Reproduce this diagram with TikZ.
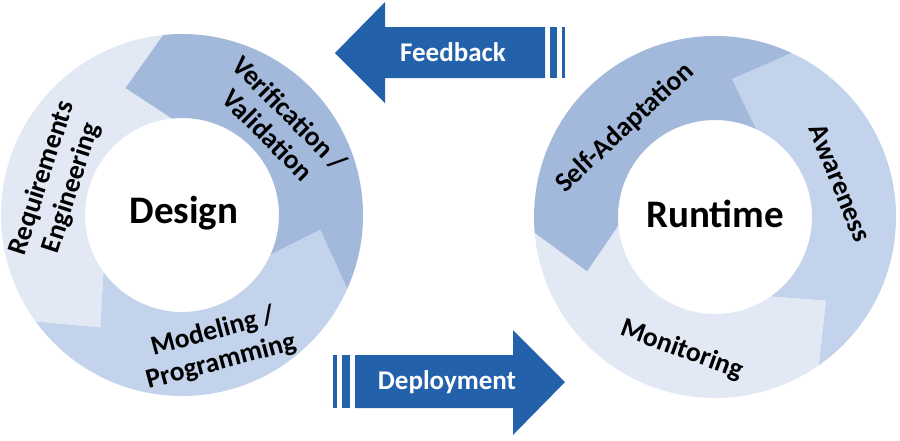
\documentclass[tikz,border=0pt]{standalone}
\usepackage{fontspec}
\setmainfont{Carlito}
\usepackage{xcolor}
\usepackage{tikz}
\usetikzlibrary{calc}
\definecolor{ringdark}{HTML}{A3B9DC}
\definecolor{ringmid}{HTML}{C3D3EC}
\definecolor{ringlight}{HTML}{E2E9F5}
\definecolor{flowblue}{HTML}{2461AB}

% #1 centre, #2 tail angle, #3 head angle, #4 colour
\newcommand{\ringarrow}[4]{%
  \fill[#4] ($(#1)+(#2:181)$) arc[start angle=#2, end angle=#3, radius=181]
    -- ($(#1)+(#3+18:139)$) -- ($(#1)+(#3:97)$)
    arc[start angle=#3, end angle=#2, radius=97]
    -- ($(#1)+(#2+18:139)$) -- cycle;}

\begin{document}
\begin{tikzpicture}[x=1pt,y=1pt,font=\bfseries\fontsize{27.5}{31}\selectfont,
    ringlabel/.style={align=center,inner sep=0pt,text=black},
    hub/.style={inner sep=0pt,font=\bfseries\fontsize{39}{42}\selectfont},
    flowlabel/.style={inner sep=0pt,text=white,font=\bfseries\fontsize{27}{30}\selectfont}]
    \useasboundingbox[fill=white] (0,0) rectangle (900,-440);
    \coordinate (dc) at (182,-215);
    \coordinate (rc) at (715,-217);

    \ringarrow{dc}{96}{216}{ringlight}
    \ringarrow{dc}{216}{336}{ringmid}
    \ringarrow{dc}{336}{456}{ringdark}

    \ringarrow{rc}{185}{305}{ringlight}
    \ringarrow{rc}{305}{425}{ringmid}
    \ringarrow{rc}{65}{185}{ringdark}

    \node[hub] (design) at (184,-213) {Design};
    \node[hub] (runtime) at (715,-214) {Runtime};

    \node[ringlabel,rotate=72] (reqeng) at (57,-183) {Requirements\\Engineering};
    \node[ringlabel,rotate=-45] (verival) at (279,-124) {Verification /\\Validation};
    \node[ringlabel,rotate=15] (modprog) at (217,-347) {Modeling /\\Programming};
    \node[ringlabel,rotate=43] (selfadapt) at (625,-128) {Self-Adaptation};
    \node[ringlabel,rotate=-68] (aware) at (840,-183) {Awareness};
    \node[ringlabel,rotate=-20] (monitor) at (682,-350) {Monitoring};

    \fill[flowblue] (335,-53) -- (385,-2) -- (385,-27) -- (545,-27) -- (545,-78)
      -- (385,-78) -- (385,-103) -- cycle;
    \fill[flowblue] (550,-27) rectangle (557,-78);
    \fill[flowblue] (562,-27) rectangle (565,-78);
    \node[flowlabel] (feedback) at (453,-52) {Feedback};

    \fill[flowblue] (355,-355) -- (513,-355) -- (513,-330) -- (565,-382) -- (513,-435)
      -- (513,-408) -- (355,-408) -- cycle;
    \fill[flowblue] (333,-355) rectangle (337,-408);
    \fill[flowblue] (342,-355) rectangle (350,-408);
    \node[flowlabel] (deploy) at (447,-382) {Deployment};
  \end{tikzpicture}
\end{document}
